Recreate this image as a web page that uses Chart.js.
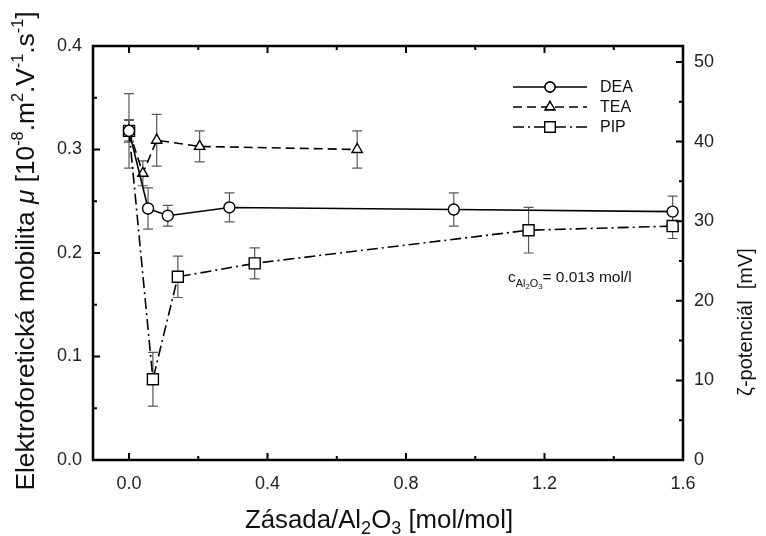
<!DOCTYPE html>
<html>
<head>
<meta charset="utf-8">
<script src="https://cdn.jsdelivr.net/npm/chart.js@4.4.1/dist/chart.umd.min.js"></script>
<style>
  html, body { margin: 0; padding: 0; background: #fff; }
  #wrap { width: 766px; height: 536px; }
</style>
</head>
<body>
<div id="wrap"><canvas id="chart" width="766" height="536"></canvas></div>
<script>
// data
const deaX = [0, 0.055, 0.112, 0.29, 0.938, 1.57];
const deaY = [0.318, 0.243, 0.236, 0.244, 0.242, 0.240];
const deaErr = [0.010, 0.020, 0.010, 0.014, 0.016, 0.015];

const teaX = [0, 0.04, 0.08, 0.204, 0.659];
const teaY = [0.318, 0.277, 0.309, 0.303, 0.300];
const teaErr = [0.011, 0.012, 0.025, 0.015, 0.018];

const pipX = [0, 0.069, 0.141, 0.363, 1.154, 1.57];
const pipY = [0.318, 0.078, 0.177, 0.190, 0.222, 0.226];
const pipErr = [0.036, 0.026, 0.020, 0.015, 0.022, 0.012];

const xTicks = [0, 0.4, 0.8, 1.2, 1.6];
const yTicks = [0, 0.1, 0.2, 0.3, 0.4];
const zTicks = [0, 10, 20, 30, 40, 50];

const FONT = '"Liberation Sans", Arial, sans-serif';

function pts(xs, ys) {
  return xs.map((x, i) => ({ x: x, y: ys[i] }));
}

// draw a string made of normal / super / subscript runs
function drawRuns(ctx, runs, x, y, size, align) {
  const fontOf = r => (r.italic ? 'italic ' : '') + (size * (r.scale || 1)) + 'px ' + FONT;
  let total = 0;
  runs.forEach(r => { ctx.font = fontOf(r); total += ctx.measureText(r.t).width; });
  let cx = align === 'center' ? x - total / 2 : x;
  ctx.textAlign = 'left';
  ctx.textBaseline = 'alphabetic';
  runs.forEach(r => {
    ctx.font = fontOf(r);
    ctx.fillText(r.t, cx, y + (r.dy || 0) * size);
    cx += ctx.measureText(r.t).width;
  });
}

const errorBars = {
  id: 'errorBars',
  beforeDatasetsDraw(chart) {
    const ctx = chart.ctx;
    const xs = chart.scales.x, ys = chart.scales.y;
    const sets = [[deaX, deaY, deaErr], [teaX, teaY, teaErr], [pipX, pipY, pipErr]];
    ctx.save();
    ctx.strokeStyle = '#595959';
    ctx.lineWidth = 1.2;
    sets.forEach(([xv, yv, ev]) => {
      xv.forEach((xx, i) => {
        const px = xs.getPixelForValue(xx);
        const top = ys.getPixelForValue(yv[i] + ev[i]);
        const bot = ys.getPixelForValue(yv[i] - ev[i]);
        ctx.beginPath();
        ctx.moveTo(px, top); ctx.lineTo(px, bot);
        ctx.moveTo(px - 5, top); ctx.lineTo(px + 5, top);
        ctx.moveTo(px - 5, bot); ctx.lineTo(px + 5, bot);
        ctx.stroke();
      });
    });
    ctx.restore();
  }
};

const frame = {
  id: 'frame',
  afterDraw(chart) {
    const ctx = chart.ctx;
    const a = chart.chartArea;
    const xs = chart.scales.x, ys = chart.scales.y, zs = chart.scales.y2;
    ctx.save();
    ctx.strokeStyle = '#000';
    ctx.lineWidth = 2.5;
    ctx.strokeRect(a.left, a.top, a.right - a.left, a.bottom - a.top);

    ctx.lineWidth = 2;
    ctx.beginPath();
    // x ticks, bottom and top, inward
    for (let v = 0; v <= 1.6001; v += 0.2) {
      const px = xs.getPixelForValue(v);
      const len = Math.abs(v / 0.4 - Math.round(v / 0.4)) < 1e-6 ? 7 : 4;
      ctx.moveTo(px, a.bottom); ctx.lineTo(px, a.bottom - len);
      ctx.moveTo(px, a.top); ctx.lineTo(px, a.top + len);
    }
    // left y ticks
    for (let v = 0.05; v < 0.4; v += 0.05) {
      const py = ys.getPixelForValue(v);
      const len = Math.abs(v * 10 - Math.round(v * 10)) < 1e-6 ? 7 : 4;
      ctx.moveTo(a.left, py); ctx.lineTo(a.left + len, py);
    }
    // right y ticks
    for (let v = 5; v <= 50; v += 5) {
      const py = zs.getPixelForValue(v);
      const len = v % 10 === 0 ? 7 : 4;
      ctx.moveTo(a.right, py); ctx.lineTo(a.right - len, py);
    }
    ctx.stroke();

    // axis titles
    ctx.fillStyle = '#111';
    ctx.save();
    ctx.translate(24, 251);
    ctx.rotate(-Math.PI / 2);
    drawRuns(ctx, [
      { t: 'Elektroforetická mobilita ' },
      { t: 'μ', italic: true },
      { t: ' [10' }, { t: '-8', scale: 0.62, dy: -0.42 },
      { t: '.m' }, { t: '2', scale: 0.62, dy: -0.42 },
      { t: '.V' }, { t: '-1', scale: 0.62, dy: -0.42 },
      { t: '.s' }, { t: '-1', scale: 0.62, dy: -0.42 },
      { t: ']' }
    ], 0, 10, 26.3, 'center');
    ctx.restore();

    ctx.save();
    ctx.translate(745, 322);
    ctx.rotate(-Math.PI / 2);
    drawRuns(ctx, [{ t: 'ζ-potenciál  [mV]' }], 0, 7, 20, 'center');
    ctx.restore();

    drawRuns(ctx, [
      { t: 'Zásada/Al' }, { t: '2', scale: 0.7, dy: 0.25 },
      { t: 'O' }, { t: '3', scale: 0.7, dy: 0.25 },
      { t: ' [mol/mol]' }
    ], 379, 528, 25.8, 'center');

    // annotation
    drawRuns(ctx, [
      { t: 'c' },
      { t: 'Al', scale: 0.7, dy: 0.3 }, { t: '2', scale: 0.5, dy: 0.45 },
      { t: 'O', scale: 0.7, dy: 0.3 }, { t: '3', scale: 0.5, dy: 0.45 },
      { t: '= 0.013 mol/l' }
    ], 508, 282, 15.5, 'left');

    // legend
    const items = [
      { label: 'DEA', dash: [], style: 'circle', r: 5 },
      { label: 'TEA', dash: [9, 5], style: 'triangle', r: 5.5 },
      { label: 'PIP', dash: [11, 4, 2, 4], style: 'rect', r: 7.5 }
    ];
    items.forEach((it, i) => {
      const y = 87 + i * 20;
      ctx.strokeStyle = '#000';
      ctx.lineWidth = 1.6;
      ctx.setLineDash(it.dash);
      ctx.beginPath();
      ctx.moveTo(513, y); ctx.lineTo(587, y);
      ctx.stroke();
      ctx.setLineDash([]);
      ctx.fillStyle = '#fff';
      ctx.lineWidth = 1.4;
      Chart.helpers.drawPoint(ctx, { pointStyle: it.style, radius: it.r, borderWidth: 1.4 }, 550, y);
      ctx.fill();
      ctx.stroke();
      ctx.fillStyle = '#111';
      ctx.font = '16px ' + FONT;
      ctx.textAlign = 'left';
      ctx.textBaseline = 'middle';
      ctx.fillText(it.label, 600, y + 1);
    });
    ctx.restore();
  }
};

function seriesStyle(dash, style, r) {
  return {
    borderColor: '#000',
    borderWidth: 1.6,
    borderDash: dash,
    backgroundColor: '#fff',
    pointStyle: style,
    pointRadius: r,
    pointBorderWidth: 1.4,
    pointBackgroundColor: '#fff',
    pointBorderColor: '#000',
    tension: 0,
    fill: false
  };
}

const tickFont = { family: FONT, size: 18 };

new Chart(document.getElementById('chart'), {
  type: 'line',
  data: {
    datasets: [
      Object.assign({ label: 'DEA', data: pts(deaX, deaY) }, seriesStyle([], 'circle', 5.5)),
      Object.assign({ label: 'TEA', data: pts(teaX, teaY) }, seriesStyle([9, 5], 'triangle', 6)),
      Object.assign({ label: 'PIP', data: pts(pipX, pipY) }, seriesStyle([11, 4, 2, 4], 'rect', 7.8))
    ]
  },
  options: {
    responsive: false,
    animation: false,
    layout: { padding: { top: 46, left: 0, right: 0, bottom: 0 } },
    plugins: { legend: { display: false }, tooltip: { enabled: false } },
    scales: {
      x: {
        type: 'linear', min: -0.104, max: 1.6,
        grid: { display: false }, border: { display: false },
        afterBuildTicks: s => { s.ticks = xTicks.map(v => ({ value: v })); },
        afterFit: s => { s.height = 76; },
        ticks: { font: tickFont, color: '#222', padding: 5, maxRotation: 0, callback: v => v.toFixed(1) }
      },
      y: {
        type: 'linear', position: 'left', min: 0, max: 0.4,
        grid: { display: false }, border: { display: false },
        afterBuildTicks: s => { s.ticks = yTicks.map(v => ({ value: v })); },
        afterFit: s => { s.width = 93; },
        ticks: { font: tickFont, color: '#222', padding: 3, callback: v => v.toFixed(1) }
      },
      y2: {
        type: 'linear', position: 'right', min: 0, max: 52,
        grid: { display: false }, border: { display: false },
        afterBuildTicks: s => { s.ticks = zTicks.map(v => ({ value: v })); },
        afterFit: s => { s.width = 83; },
        ticks: { font: tickFont, color: '#222', padding: 3, callback: v => String(v) }
      }
    }
  },
  plugins: [errorBars, frame]
});
</script>
</body>
</html>
